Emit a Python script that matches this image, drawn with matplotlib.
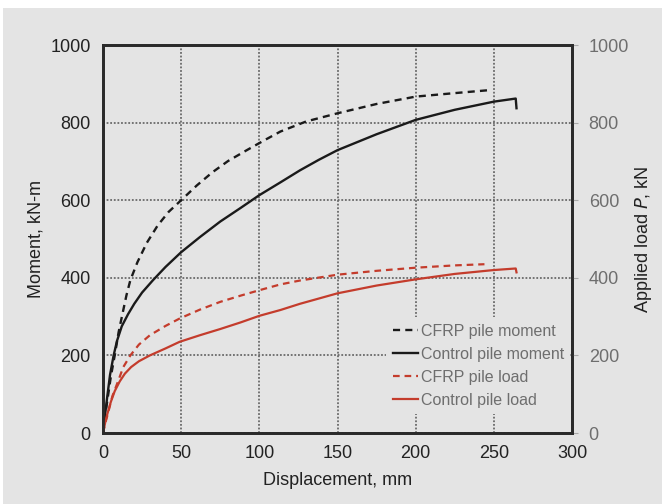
import matplotlib
matplotlib.use("Agg")
import matplotlib.pyplot as plt
from matplotlib.patches import Rectangle

plt.rcParams['font.family'] = ['Liberation Sans', 'DejaVu Sans']

# CFRP pile moment (kN-m) vs displacement (mm)
cfrp_m_x = [0, 1.5, 3, 5, 7.5, 10, 12.4, 15, 17.5, 22, 28, 35, 42, 50, 60, 70, 80, 92, 103, 113.5,
            130, 150, 175, 200, 225, 248]
cfrp_m_y = [0, 48, 90, 145, 200, 260, 306, 355, 394, 440, 490, 535, 570, 600, 638, 672, 701, 729, 754, 777,
            803, 824, 848, 867, 876, 884]

# Control pile moment
ctrl_m_x = [0, 1.2, 2.6, 4.5, 6.8, 9, 12, 16, 20, 25, 32, 40, 50, 62, 75, 88, 100, 113.5, 126, 138, 150,
            175, 200, 225, 250, 264, 264.5]
ctrl_m_y = [0, 42, 90, 150, 200, 238, 275, 306, 333, 362, 394, 428, 466, 505, 545, 580, 613, 646, 677, 704, 729,
            770, 807, 833, 854, 862, 837]

# CFRP pile load (kN)
cfrp_p_x = [0, 1.5, 3, 6, 9.6, 13, 17.5, 23, 30, 40, 49, 62, 75, 88, 100, 113.5, 126, 150, 175, 200, 225, 244]
cfrp_p_y = [0, 26, 48, 95, 133, 170, 200, 228, 252, 276, 295, 318, 338, 354, 368, 383, 393, 408, 418, 426, 432, 435]

# Control pile load
ctrl_p_x = [0, 1.3, 2.7, 5, 7.5, 10.7, 14, 18, 23, 30, 40, 49, 62, 75, 88, 100, 113.5, 126, 150,
            175, 200, 225, 250, 264, 264.5]
ctrl_p_y = [0, 25, 48, 80, 108, 133, 153, 170, 185, 200, 218, 235, 252, 268, 285, 302, 317, 333, 360,
            380, 396, 410, 420, 424, 414]

bg = '#e4e4e4'
red = '#c43c2c'
gray_txt = '#6e6e6e'

fig = plt.figure(figsize=(6.62, 5.04), dpi=100)
fig.patch.set_facecolor('white')
fig.patches.append(Rectangle((3 / 662, 0), 1, 1 - 8 / 504, transform=fig.transFigure,
                             facecolor=bg, edgecolor='none', zorder=-10))

ax = fig.add_axes([103 / 662, 1 - 433 / 504, 469 / 662, 388 / 504])
ax.set_facecolor(bg)
ax2 = ax.twinx()

l1, = ax.plot(cfrp_m_x, cfrp_m_y, color='#1a1a1a', lw=1.7, ls=(0, (3, 2.2)), label='CFRP pile moment')
l2, = ax.plot(ctrl_m_x, ctrl_m_y, color='#1a1a1a', lw=1.7, label='Control pile moment')
l3, = ax2.plot(cfrp_p_x, cfrp_p_y, color=red, lw=1.6, ls=(0, (3, 2.2)), label='CFRP pile load')
l4, = ax2.plot(ctrl_p_x, ctrl_p_y, color=red, lw=1.6, label='Control pile load')

ax.set_xlim(0, 300)
ax.set_ylim(0, 1000)
ax2.set_ylim(0, 1000)
ax.set_xticks(range(0, 301, 50))
ax.set_yticks(range(0, 1001, 200))
ax2.set_yticks(range(0, 1001, 200))

ax.grid(True, color='#6a6a6a', ls=(0, (1, 1)), lw=1.3)
ax.set_axisbelow(True)

for s in ['left', 'top', 'right', 'bottom']:
    ax.spines[s].set_color('#2a2a2a')
    ax.spines[s].set_linewidth(2)
    ax2.spines[s].set_color('#2a2a2a')
    ax2.spines[s].set_linewidth(2)

ax.tick_params(axis='both', length=0, labelsize=13, colors='#222222', pad=9)
ax2.tick_params(axis='y', length=4, color='#aaaaaa', labelsize=13, labelcolor=gray_txt, pad=8)

ax.set_xlabel('Displacement, mm', fontsize=13, color='#222222', labelpad=7)
ax.set_ylabel('Moment, kN-m', fontsize=13, color='#222222', labelpad=4)
ax2.set_ylabel('Applied load $\\mathit{P}$, kN', fontsize=13, color='#222222', labelpad=3)

leg = ax2.legend(handles=[l1, l2, l3, l4], loc='lower right', bbox_to_anchor=(1.0, 0.045),
                 frameon=True, fontsize=11.5, handlelength=1.6, handletextpad=0.15,
                 labelspacing=0.5, borderaxespad=0.1, borderpad=0.4)
leg.get_frame().set_facecolor(bg)
leg.get_frame().set_edgecolor('none')
leg.get_frame().set_alpha(1)
for t in leg.get_texts():
    t.set_color(gray_txt)

fig.savefig('out.png', dpi=100, facecolor=fig.get_facecolor())
